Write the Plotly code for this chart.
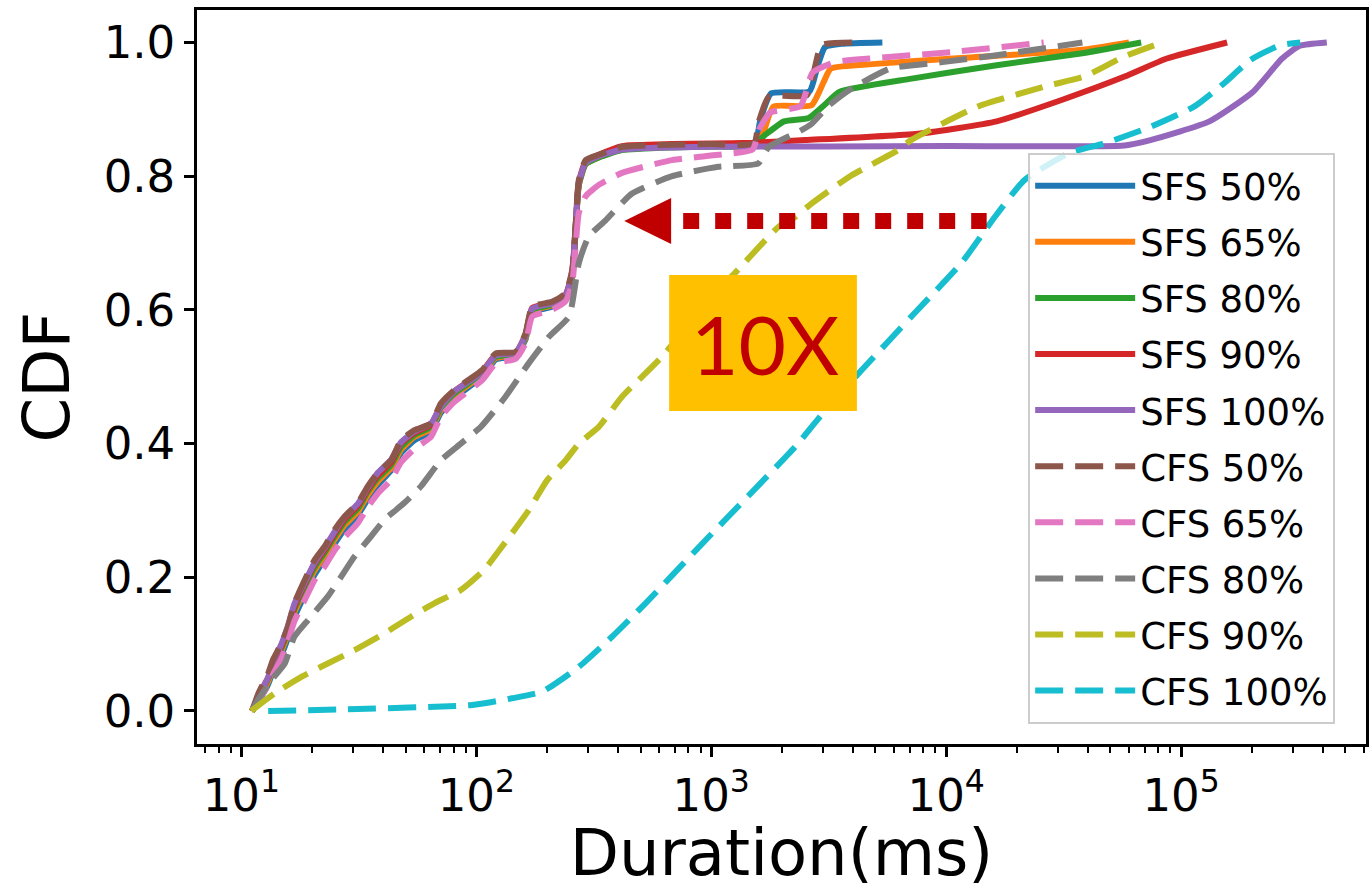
import plotly.graph_objects as go

# ---------------- data ----------------
# shared x positions (ms) for the low, overlapping part of the tight cluster
LOW_X = [11.1, 11.8, 13.0, 13.6, 14.8, 15.8, 16.8, 18.6, 20.5, 22.6, 24.9, 27.5,
         31.3, 34.5, 38.0, 43.4, 47.8, 54.5, 64.1, 70.6, 80.5, 106, 121, 147,
         162, 173, 210, 240, 256, 264, 273, 292, 332, 417, 681]

SFS50_LOW_Y = [0, .014, .04, .058, .084, .11, .14, .174, .204, .227, .25, .272, .293, .317, .338, .36, .386,
               .405, .418, .446, .468, .5, .526, .531, .556, .596, .605, .619, .65, .712, .788, .82, .83, .842, .846]
SFS50_TAIL_X = [1000, 1530, 1620, 1800, 2620, 2820, 3050, 3600, 5350]
SFS50_TAIL_Y = [.847, .849, .885, .924, .927, .962, .993, .998, 1.0]

SFS65_LOW_Y = [0, .017, .044, .063, .09, .116, .147, .181, .21, .233, .256, .278, .298, .323, .343, .364, .391,
               .41, .422, .45, .472, .503, .528, .533, .558, .598, .607, .62, .652, .714, .786, .818, .828, .84, .844]
SFS65_TAIL_X = [1000, 1500, 1650, 1840, 2670, 3000, 3230, 5000, 10700, 38000, 60000]
SFS65_TAIL_Y = [.845, .847, .862, .904, .906, .94, .961, .968, .976, .989, 1.0]

SFS80_LOW_Y = [0, .02, .048, .067, .094, .12, .152, .186, .215, .237, .261, .283, .303, .328, .348, .368, .395,
               .413, .425, .453, .475, .505, .53, .534, .56, .6, .608, .621, .653, .715, .787, .818, .828, .839, .843]
SFS80_TAIL_X = [1000, 1500, 1700, 2040, 2600, 3000, 3510, 7130, 16400, 38000, 67600]
SFS80_TAIL_Y = [.844, .846, .862, .882, .887, .905, .926, .946, .966, .984, 1.0]

SFS90_LOW_Y = [0, .022, .05, .07, .097, .123, .156, .19, .22, .241, .265, .287, .307, .331, .352, .372, .4,
               .416, .428, .457, .478, .508, .533, .536, .563, .603, .611, .623, .657, .718, .791, .822, .832, .845, .848]
SFS90_TAIL_X = [1000, 1500, 2510, 7760, 16400, 31000, 57500, 87000, 157000]
SFS90_TAIL_Y = [.849, .85, .854, .864, .882, .914, .949, .976, 1.0]

SFS100_LOW_Y = [0, .022, .05, .072, .1, .128, .16, .192, .222, .244, .268, .29, .31, .334, .356, .376, .402,
                .418, .43, .456, .478, .507, .532, .536, .562, .602, .61, .622, .656, .718, .79, .82, .83, .84, .843]
SFS100_TAIL_X = [1000, 10000, 57500, 74000, 132000, 202000, 269000, 320000, 417000]
SFS100_TAIL_Y = [.844, .845, .846, .854, .882, .926, .976, .995, 1.0]

CFS50_LOW_Y = [0, .026, .056, .076, .101, .126, .161, .196, .226, .246, .271, .291, .311, .336, .356, .375, .405,
               .42, .43, .46, .48, .51, .535, .537, .565, .605, .612, .625, .66, .72, .794, .824, .832, .844, .847]
CFS50_TAIL_X = [1000, 1520, 1590, 1760, 2550, 2750, 2950, 4400]
CFS50_TAIL_Y = [.848, .849, .88, .919, .921, .96, .996, 1.0]

CFS65_LOW_Y = [0, .016, .038, .054, .078, .104, .134, .166, .196, .216, .24, .26, .281, .305, .325, .346, .372,
               .392, .41, .44, .462, .495, .52, .527, .55, .59, .6, .613, .64, .69, .745, .77, .787, .805, .824]
CFS65_TAIL_X = [1070, 1500, 1600, 1780, 2400, 2700, 3400, 4700, 10800, 26000]
CFS65_TAIL_Y = [.832, .84, .87, .895, .905, .955, .971, .976, .986, 1.0]

CFS80_X = [11.1, 11.75, 13.4, 15.3, 16.8, 19.2, 23.3, 26.6, 30.3, 35.6, 40.6, 49.3, 58.1, 70.6, 85.9, 104.5,
           133, 167, 204, 248, 273, 301, 355, 460, 681, 1070, 1585, 1760, 2400, 2670, 3150, 4000, 5770, 9840,
           16400, 38000]
CFS80_Y = [0, .016, .046, .071, .111, .136, .171, .201, .231, .261, .286, .311, .336, .375, .40, .425,
           .47, .52, .56, .59, .67, .71, .734, .774, .80, .814, .819, .844, .868, .878, .905, .932, .961, .971,
           .981, 1.0]

CFS90_X = [11.0, 13.8, 18.0, 23.3, 30.3, 40.6, 52.7, 66.2, 85.9, 108, 125, 167, 200, 240, 273, 332, 417, 617,
           1000, 1260, 1930, 2275, 2670, 3900, 6240, 7080, 13600, 26200, 38700, 57300, 83000]
CFS90_Y = [0, .026, .051, .071, .091, .116, .141, .161, .181, .211, .24, .30, .345, .375, .40, .425, .47, .53,
           .62, .655, .724, .739, .759, .80, .839, .854, .904, .934, .949, .979, 1.0]

CFS100_X = [13.0, 27.9, 96, 142, 191, 273, 378, 525, 885, 1440, 2275, 2900, 4370, 7110, 11600, 16100, 21500,
            33600, 47100, 74300, 113500, 152400, 197700, 264800, 321400]
CFS100_Y = [0, .0025, .009, .019, .029, .066, .111, .161, .245, .322, .395, .44, .51, .59, .67, .739, .794,
            .835, .849, .874, .904, .939, .974, .996, 1.0]

NAMES = ["SFS 50%", "SFS 65%", "SFS 80%", "SFS 90%", "SFS 100%",
         "CFS 50%", "CFS 65%", "CFS 80%", "CFS 90%", "CFS 100%"]
COLORS = ["#1f77b4", "#ff7f0e", "#2ca02c", "#d62728", "#9467bd",
          "#8c564b", "#e377c2", "#7f7f7f", "#bcbd22", "#17becf"]

X_TICKS = [10, 100, 1000, 10000, 100000]
X_TICKTEXT = ["10<sup>1</sup>", "10<sup>2</sup>", "10<sup>3</sup>", "10<sup>4</sup>", "10<sup>5</sup>"]
X_MINOR = [7, 8, 9, 20, 30, 40, 50, 60, 70, 80, 90, 200, 300, 400, 500, 600, 700, 800, 900,
           2000, 3000, 4000, 5000, 6000, 7000, 8000, 9000, 20000, 30000, 40000, 50000, 60000,
           70000, 80000, 90000, 200000, 300000, 400000, 500000, 600000]
Y_TICKS = [0.0, 0.2, 0.4, 0.6, 0.8, 1.0]
Y_TICKTEXT = ["0.0", "0.2", "0.4", "0.6", "0.8", "1.0"]

# ---------------- build series ----------------
series = [
    (LOW_X + SFS50_TAIL_X, SFS50_LOW_Y + SFS50_TAIL_Y),
    (LOW_X + SFS65_TAIL_X, SFS65_LOW_Y + SFS65_TAIL_Y),
    (LOW_X + SFS80_TAIL_X, SFS80_LOW_Y + SFS80_TAIL_Y),
    (LOW_X + SFS90_TAIL_X, SFS90_LOW_Y + SFS90_TAIL_Y),
    (LOW_X + SFS100_TAIL_X, SFS100_LOW_Y + SFS100_TAIL_Y),
    (LOW_X + CFS50_TAIL_X, CFS50_LOW_Y + CFS50_TAIL_Y),
    (LOW_X + CFS65_TAIL_X, CFS65_LOW_Y + CFS65_TAIL_Y),
    (CFS80_X, CFS80_Y),
    (CFS90_X, CFS90_Y),
    (CFS100_X, CFS100_Y),
]

fig = go.Figure()
for (xs, ys), name, col in zip(series, NAMES, COLORS):
    dashed = name.startswith("CFS")
    fig.add_trace(go.Scatter(
        x=xs, y=ys, mode="lines", name=name, legendgroup=name,
        line=dict(color=col, width=6, shape="spline", smoothing=0.5,
                  dash="28px,12px" if dashed else "solid"),
    ))

# plot area in px: x 197..1369, y 10..744
fig.update_layout(
    width=1370, height=890,
    margin=dict(l=197, r=1, t=10, b=146),
    plot_bgcolor="white", paper_bgcolor="white",
    font=dict(family="DejaVu Sans", color="black"),
    legend=dict(
        x=0.711, y=0.805, xanchor="left", yanchor="top",
        bgcolor="rgba(255,255,255,0.8)", bordercolor="#cccccc", borderwidth=2,
        font=dict(size=37, family="DejaVu Sans"), tracegroupgap=5,
        traceorder="grouped", itemwidth=100,
    ),
    xaxis=dict(
        type="log", range=[0.811, 5.787],
        showline=True, linecolor="black", linewidth=2.5, mirror=True,
        ticks="outside", ticklen=10, tickwidth=2.5, tickcolor="black",
        tickmode="array", tickvals=X_TICKS, ticktext=X_TICKTEXT,
        tickfont=dict(size=45), showgrid=False, zeroline=False,
        minor=dict(tickmode="array", tickvals=X_MINOR, ticks="outside", ticklen=6,
                   tickwidth=1.8, tickcolor="black", showgrid=False),
        title=dict(text="Duration(ms)", font=dict(size=64), standoff=2),
    ),
    yaxis=dict(
        range=[-0.0494, 1.0486],
        showline=True, linecolor="black", linewidth=2.5, mirror=True,
        ticks="outside", ticklen=10, tickwidth=2.5, tickcolor="black",
        tickmode="array", tickvals=Y_TICKS, ticktext=Y_TICKTEXT,
        tickfont=dict(size=45), showgrid=False, zeroline=False,
        title=dict(text="CDF", font=dict(size=64), standoff=14),
    ),
)

# "10X" annotation: dotted arrow + orange label box (paper coordinates)
RED = "#C00000"
fig.add_shape(type="line", xref="paper", yref="paper",
              x0=0.4159, x1=0.6755, y0=0.7125, y1=0.7125,
              line=dict(color=RED, width=16, dash="dot"))
fig.add_shape(type="path", xref="paper", yref="paper",
              path="M 0.3655 0.7125 L 0.4056 0.7439 L 0.4056 0.6812 Z",
              fillcolor=RED, line=dict(color=RED, width=0))
fig.add_shape(type="rect", xref="paper", yref="paper",
              x0=0.4039, x1=0.5645, y0=0.4537, y1=0.639,
              fillcolor="#FFC000", line=dict(width=0))
fig.add_annotation(xref="paper", yref="paper", x=0.4855, y=0.546,
                   text="10X", showarrow=False,
                   font=dict(family="Lato", size=82, color=RED))

# remove the browser's default body margin so the 1370x890 figure fills the window
fig.write_html("out.html", config={"displayModeBar": False},
               post_script="document.body.style.margin='0';document.body.style.overflow='hidden';")
